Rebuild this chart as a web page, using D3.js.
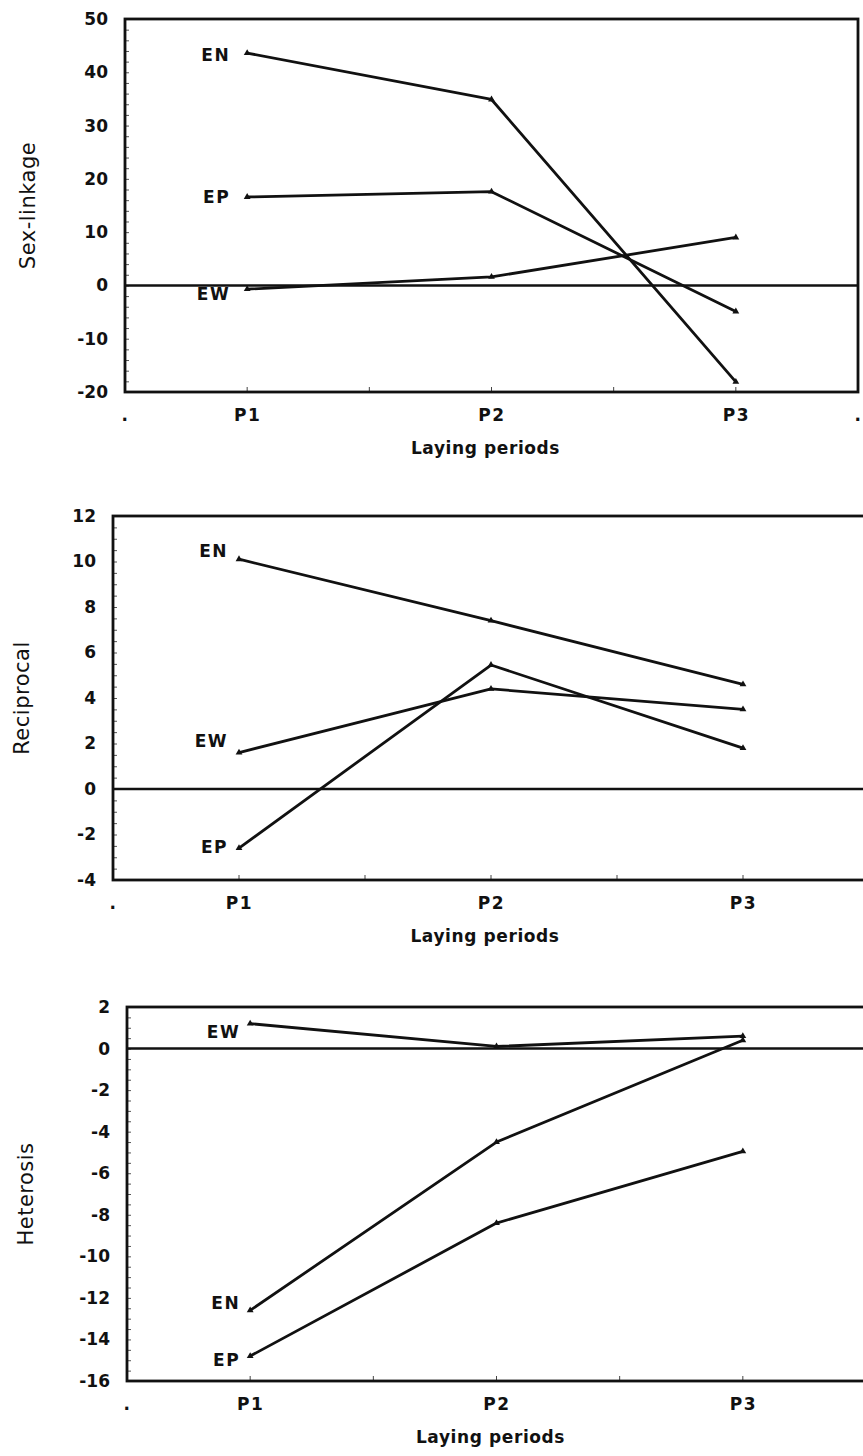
<!DOCTYPE html>
<html>
<head>
<meta charset="utf-8">
<script src="https://cdn.jsdelivr.net/npm/d3@7"></script>
<style>
  html, body { margin: 0; padding: 0; background: #fff; }
  svg { display: block; }
  .tick text { font-family: "DejaVu Sans", sans-serif; font-weight: bold; font-size: 17px; fill: #111; }
</style>
</head>
<body>
<svg id="chart" width="863" height="1456"></svg>
<script>
// ---------- data ----------
const periods = ["P1", "P2", "P3"];
const seriesNames = ["EN", "EP", "EW"];

// Sex-linkage
const sexLinkageEN = [43.6, 34.9, -18.1];
const sexLinkageEP = [16.6, 17.6, -4.9];
const sexLinkageEW = [-0.7, 1.6, 9.0];
const sexLinkageTicks = [-20, -10, 0, 10, 20, 30, 40, 50];

// Reciprocal
const reciprocalEN = [10.1, 7.4, 4.6];
const reciprocalEP = [-2.6, 5.45, 1.8];
const reciprocalEW = [1.6, 4.4, 3.5];
const reciprocalTicks = [-4, -2, 0, 2, 4, 6, 8, 10, 12];

// Heterosis
const heterosisEN = [-12.6, -4.5, 0.4];
const heterosisEP = [-14.8, -8.4, -4.95];
const heterosisEW = [1.2, 0.1, 0.6];
const heterosisTicks = [-16, -14, -12, -10, -8, -6, -4, -2, 0, 2];

const xAxisTitle = "Laying periods";

// ---------- layout (styling only) ----------
const W = 863;
const panels = [
  { title: "Sex-linkage", ticks: sexLinkageTicks, minor: 2,
    series: { EN: sexLinkageEN, EP: sexLinkageEP, EW: sexLinkageEW },
    box: { left: 125, right: 858, top: 19, bottom: 392 }, titleX: 27,
    labelDy: { EN: 2, EP: 0, EW: 5 }, labelGap: 17 },
  { title: "Reciprocal", ticks: reciprocalTicks, minor: 0.5,
    series: { EN: reciprocalEN, EP: reciprocalEP, EW: reciprocalEW },
    box: { left: 113, right: 869, top: 516, bottom: 880 }, titleX: 21,
    labelDy: { EN: -8, EP: -1, EW: -12 }, labelGap: 11 },
  { title: "Heterosis", ticks: heterosisTicks, minor: 0.5,
    series: { EN: heterosisEN, EP: heterosisEP, EW: heterosisEW },
    box: { left: 127, right: 866, top: 1007, bottom: 1381 }, titleX: 25,
    labelDy: { EN: -7, EP: 4, EW: 8 }, labelGap: 10 }
];

const svg = d3.select("#chart");
const ink = "#111";

panels.forEach(p => {
  const b = p.box;
  const g = svg.append("g");
  const x = d3.scaleLinear().domain([0, 3]).range([b.left, b.right]);
  const yDom = d3.extent(p.ticks);
  const y = d3.scaleLinear().domain(yDom).range([b.bottom, b.top]);
  const px = i => x(i + 0.5);

  // minor inward ticks on y axis
  const minorVals = d3.range(yDom[0], yDom[1] + 1e-9, p.minor);
  g.append("g")
    .attr("transform", `translate(${b.left},0)`)
    .call(d3.axisLeft(y).tickValues(minorVals).tickSize(-4).tickFormat(""))
    .call(s => s.select(".domain").remove())
    .call(s => s.selectAll("line").attr("stroke", "#555").attr("stroke-width", 1));

  // major y labels (plain hyphen minus, as in the original)
  g.append("g")
    .attr("transform", `translate(${b.left},0)`)
    .call(d3.axisLeft(y).tickValues(p.ticks).tickSize(0).tickPadding(17).tickFormat(d => String(d)))
    .call(s => s.select(".domain").remove());

  // x axis labels
  const xTickVals = [0, 0.5, 1.5, 2.5, 3].filter(d => x(d) < W - 2);
  g.append("g")
    .attr("transform", `translate(0,${b.bottom})`)
    .call(d3.axisBottom(x).tickValues(xTickVals).tickSize(0).tickPadding(17)
      .tickFormat(d => (d === 0 || d === 3) ? "." : periods[Math.floor(d)]))
    .call(s => s.select(".domain").remove())
    .call(s => s.selectAll(".tick text").attr("letter-spacing", 1.5));
  // inward x ticks
  g.append("g")
    .selectAll("line")
    .data([0.5, 1, 1.5, 2, 2.5])
    .join("line")
    .attr("x1", d => x(d)).attr("x2", d => x(d))
    .attr("y1", b.bottom).attr("y2", b.bottom - 5)
    .attr("stroke", "#444").attr("stroke-width", 1);

  // frame
  g.append("rect")
    .attr("x", b.left).attr("y", b.top)
    .attr("width", b.right - b.left).attr("height", b.bottom - b.top)
    .attr("fill", "none").attr("stroke", ink).attr("stroke-width", 2.8);

  // zero line
  g.append("line")
    .attr("x1", b.left).attr("x2", b.right)
    .attr("y1", y(0)).attr("y2", y(0))
    .attr("stroke", ink).attr("stroke-width", 2.4);

  // series lines
  const line = d3.line().x((d, i) => px(i)).y(d => y(d));
  seriesNames.forEach(name => {
    const vals = p.series[name];
    g.append("path")
      .datum(vals)
      .attr("d", line)
      .attr("fill", "none")
      .attr("stroke", ink)
      .attr("stroke-width", 2.8)
      .attr("stroke-linejoin", "round");
    g.selectAll(null)
      .data(vals)
      .join("path")
      .attr("transform", (d, i) => `translate(${px(i)},${y(d)})`)
      .attr("d", d3.symbol().type(d3.symbolTriangle).size(20))
      .attr("fill", ink);
    // series label left of P1
    g.append("text")
      .attr("x", px(0) - p.labelGap)
      .attr("y", y(vals[0]) + p.labelDy[name])
      .attr("dy", "0.36em")
      .attr("text-anchor", "end")
      .attr("font-family", "DejaVu Sans, sans-serif")
      .attr("font-weight", "bold")
      .attr("font-size", 17)
      .attr("letter-spacing", 1.5)
      .attr("fill", ink)
      .text(name);
  });

  // x-axis title
  g.append("text")
    .attr("x", x(1.5) - 6)
    .attr("y", b.bottom + 56)
    .attr("dy", "0.36em")
    .attr("text-anchor", "middle")
    .attr("font-family", "DejaVu Sans, sans-serif")
    .attr("font-weight", "bold")
    .attr("font-size", 17)
    .attr("letter-spacing", 0.6)
    .attr("fill", ink)
    .text(xAxisTitle);

  // y-axis title
  g.append("text")
    .attr("transform", `translate(${p.titleX},${(b.top + b.bottom) / 2}) rotate(-90)`)
    .attr("dy", "0.36em")
    .attr("text-anchor", "middle")
    .attr("font-family", "DejaVu Sans, sans-serif")
    .attr("font-size", 21)
    .attr("letter-spacing", 0.5)
    .attr("fill", ink)
    .text(p.title);
});
</script>
</body>
</html>
